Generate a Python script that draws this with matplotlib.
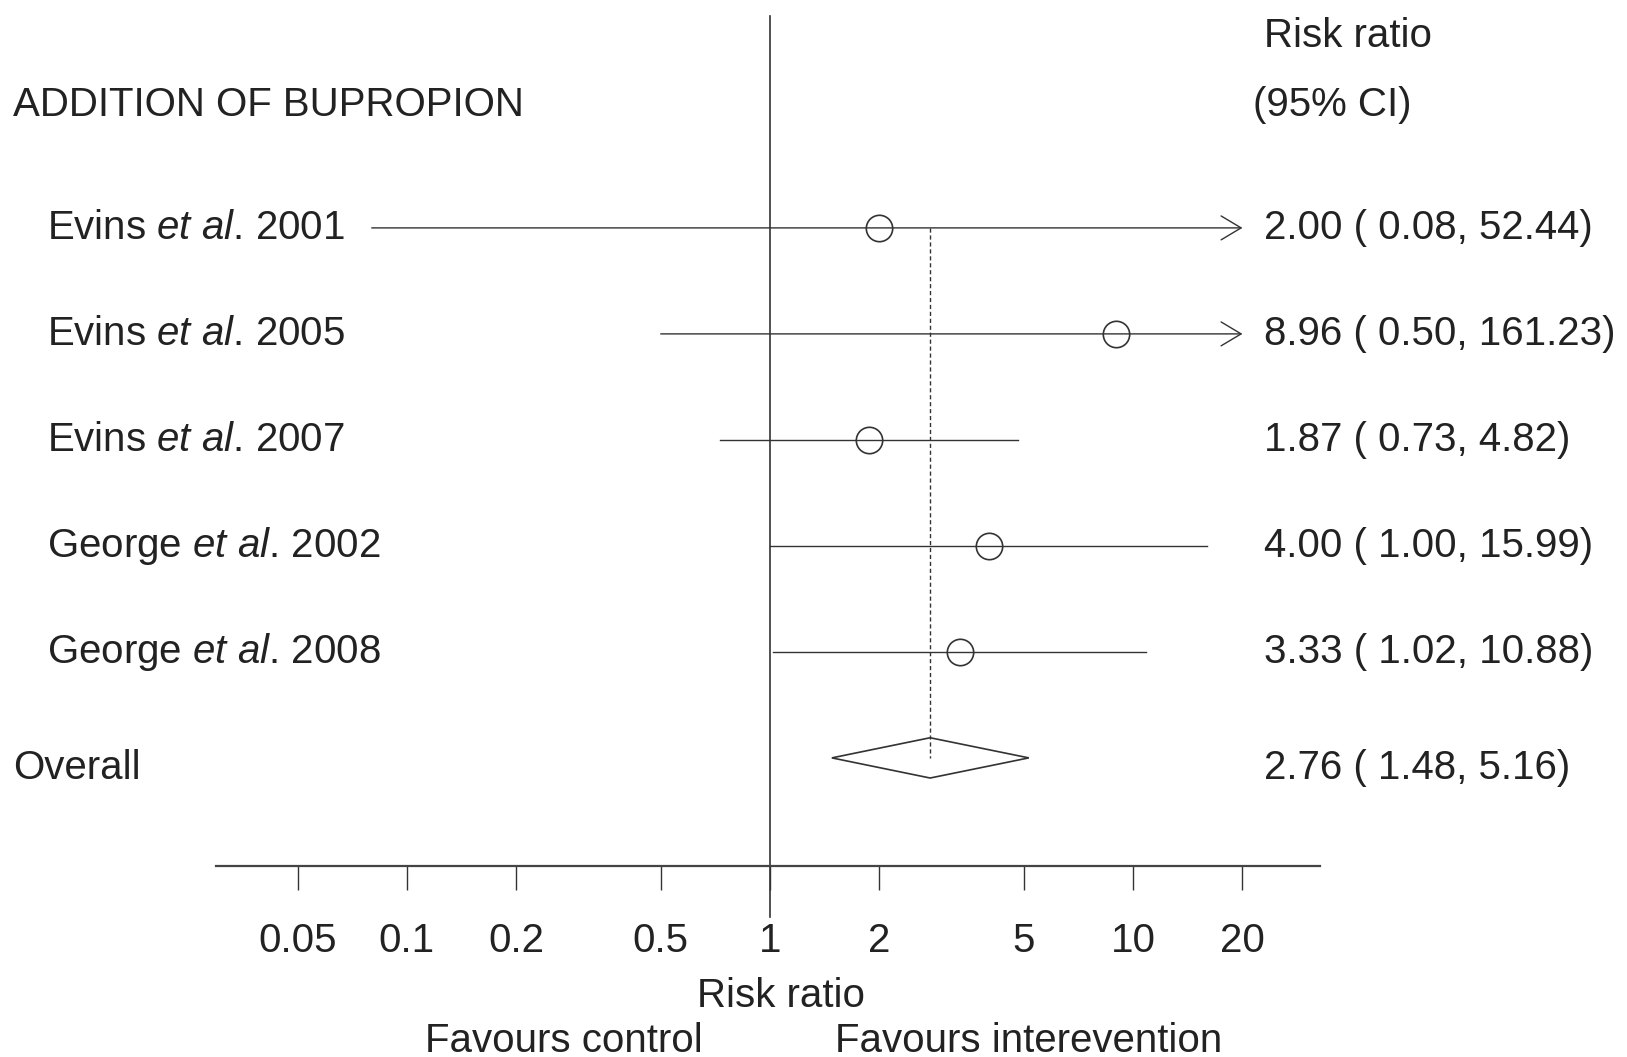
import matplotlib
matplotlib.use("Agg")
import matplotlib.pyplot as plt
import matplotlib.transforms as mtransforms
from matplotlib.patches import Polygon

plt.rcParams['font.family'] = ['Liberation Sans', 'DejaVu Sans']
plt.rcParams['mathtext.fontset'] = 'custom'
plt.rcParams['mathtext.rm'] = 'Liberation Sans'
plt.rcParams['mathtext.it'] = 'Liberation Sans:italic'

# Données de la méta-analyse
studies = [r"Evins $\mathit{et\ al}$. 2001", r"Evins $\mathit{et\ al}$. 2005",
           r"Evins $\mathit{et\ al}$. 2007", r"George $\mathit{et\ al}$. 2002",
           r"George $\mathit{et\ al}$. 2008"]
rr = [2.00, 8.96, 1.87, 4.00, 3.33]
ci_low = [0.08, 0.50, 0.73, 1.00, 1.02]
ci_high = [52.44, 161.23, 4.82, 15.99, 10.88]
overall_rr = 2.76
overall_low = 1.48
overall_high = 5.16
tick_values = [0.05, 0.1, 0.2, 0.5, 1, 2, 5, 10, 20]
tick_labels = ["0.05", "0.1", "0.2", "0.5", "1", "2", "5", "10", "20"]

W, H = 1627, 1057
fig = plt.figure(figsize=(W / 100, H / 100), dpi=100)
ax = fig.add_axes([216 / W, (H - 866) / H, (1320 - 216) / W, 866 / H])
ax.set_xscale('log')
ax.set_xlim(0.0298, 32.7)
ax.set_ylim(7.02, -1.15)

col = '#333333'
tcol = '#222222'
fs = 29
xmax = 20  # limite des flèches

for sp in ['top', 'left', 'right']:
    ax.spines[sp].set_visible(False)
ax.spines['bottom'].set_linewidth(1.6)
ax.spines['bottom'].set_color('#444444')
ax.set_yticks([])
ax.set_xticks(tick_values)
ax.set_xticklabels(tick_labels)
ax.minorticks_off()
ax.tick_params(axis='x', length=17, width=1, color=col, pad=23,
               labelsize=fs, labelcolor=tcol)

# ligne verticale à 1
ax.plot([1, 1], [-1.0, 7.5], color=col, lw=1.2, clip_on=False)

blend = mtransforms.blended_transform_factory(fig.transFigure, ax.transData)

# lignes des études
for i in range(len(studies)):
    y = i + 1
    if ci_high[i] > xmax:
        ax.annotate('', xy=(xmax, y), xytext=(ci_low[i], y),
                    arrowprops=dict(arrowstyle='->,head_length=1.44,head_width=0.86',
                                    mutation_scale=10, lw=1.0, color=col,
                                    shrinkA=0, shrinkB=0))
    else:
        ax.plot([ci_low[i], ci_high[i]], [y, y], color=col, lw=1.0)
    ax.plot(rr[i], y, marker='o', ms=19, mfc='none', mec=col, mew=1.2)
    ax.text(47 / W, y, studies[i], transform=blend, fontsize=fs, va='center',
            ha='left', color=tcol)
    lab = "%.2f ( %.2f, %.2f)" % (rr[i], ci_low[i], ci_high[i])
    ax.text(1264 / W, y, lab, transform=blend, fontsize=fs, va='center',
            ha='left', color=tcol)

# diamant global
oy = 6.0
h = 0.19
diamond = Polygon([[overall_low, oy], [overall_rr, oy - h], [overall_high, oy],
                   [overall_rr, oy + h]], closed=True, fill=False, ec=col, lw=1.2)
ax.add_patch(diamond)
ax.plot([overall_rr, overall_rr], [1, oy], color=col, lw=1.0, ls=(0, (3, 2)))

ax.text(13 / W, oy + 0.1, "Overall", transform=blend, fontsize=fs, va='center',
        ha='left', color=tcol)
ax.text(1264 / W, oy + 0.1, "%.2f ( %.2f, %.2f)" % (overall_rr, overall_low, overall_high),
        transform=blend, fontsize=fs, va='center', ha='left', color=tcol)

# en-têtes
fig.text(13 / W, 1 - 105 / H, "ADDITION OF BUPROPION", fontsize=fs, va='center',
         ha='left', color=tcol)
fig.text(1264 / W, 1 - 36 / H, "Risk ratio", fontsize=fs, va='center', ha='left',
         color=tcol)
fig.text(1253 / W, 1 - 105 / H, "(95% CI)", fontsize=fs, va='center', ha='left',
         color=tcol)

# légende de l'axe
fig.text(781 / W, 1 - 996 / H, "Risk ratio", fontsize=fs, va='center', ha='center',
         color=tcol)
fig.text(703 / W, 1 - 1041 / H, "Favours control", fontsize=fs, va='center',
         ha='right', color=tcol)
fig.text(835 / W, 1 - 1041 / H, "Favours interevention", fontsize=fs, va='center',
         ha='left', color=tcol)

fig.savefig("out.png", dpi=100, facecolor='white')
